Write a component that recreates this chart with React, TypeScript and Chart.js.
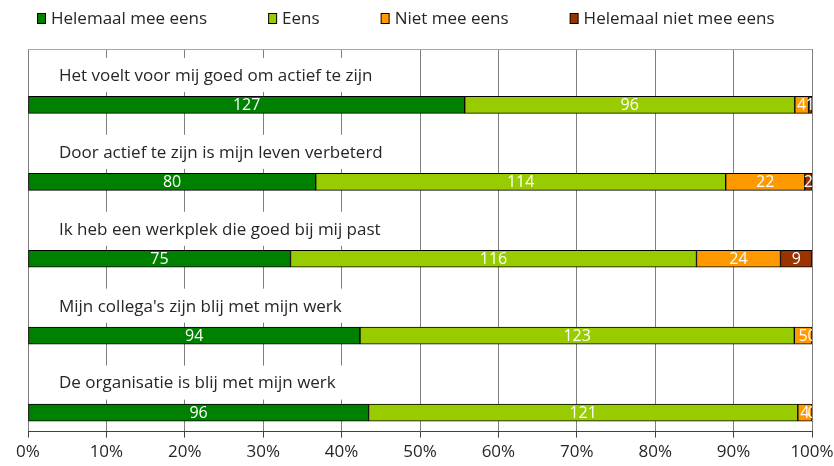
import React, { useEffect, useRef } from "react";
import { Chart, registerables } from "chart.js";

Chart.register(...registerables);

const categories = [
  "Het voelt voor mij goed om actief te zijn",
  "Door actief te zijn is mijn leven verbeterd",
  "Ik heb een werkplek die goed bij mij past",
  "Mijn collega's zijn blij met mijn werk",
  "De organisatie is blij met mijn werk",
];
const seriesNames = ["Helemaal mee eens", "Eens", "Niet mee eens", "Helemaal niet mee eens"];
const helemaalMeeEens = [127, 80, 75, 94, 96];
const eens = [96, 114, 116, 123, 121];
const nietMeeEens = [4, 22, 24, 5, 4];
const helemaalNietMeeEens = [1, 2, 9, 0, 0];
const seriesColors = ["#008000", "#99CC00", "#FF9900", "#993300"];
const xTickValues = [0, 10, 20, 30, 40, 50, 60, 70, 80, 90, 100];

const FONT = "'Open Sans', 'Noto Sans', sans-serif";
const TEXT_COLOR = "#262626";

const allSeries = [helemaalMeeEens, eens, nietMeeEens, helemaalNietMeeEens];
const totals = categories.map((_, i) => allSeries.reduce((s, arr) => s + arr[i], 0));

const categoryLabelPlugin = {
  id: "categoryLabels",
  beforeDatasetsDraw(chart: any) {
    const { ctx, chartArea, scales } = chart;
    const y = scales.y;
    ctx.save();
    ctx.font = `17px ${FONT}`;
    ctx.textBaseline = "middle";
    ctx.textAlign = "left";
    categories.forEach((label, i) => {
      const cy = y.getPixelForValue(i) - 29;
      const x = chartArea.left + 31;
      const w = ctx.measureText(label).width;
      ctx.fillStyle = "#ffffff";
      ctx.fillRect(x - 10, cy - 18, w + 36, 34);
      ctx.fillStyle = TEXT_COLOR;
      ctx.fillText(label, x, cy);
    });
    ctx.restore();
  },
};

const valueLabelPlugin = {
  id: "valueLabels",
  afterDatasetsDraw(chart: any) {
    const { ctx, chartArea } = chart;
    ctx.save();
    ctx.beginPath();
    ctx.rect(chartArea.left, chartArea.top, chartArea.right - chartArea.left, chartArea.bottom - chartArea.top);
    ctx.clip();
    ctx.font = `16px ${FONT}`;
    ctx.fillStyle = "#ffffff";
    ctx.textAlign = "center";
    ctx.textBaseline = "middle";
    chart.data.datasets.forEach((ds: any, d: number) => {
      const meta = chart.getDatasetMeta(d);
      meta.data.forEach((el: any, i: number) => {
        const raw = allSeries[d][i];
        const cx = (el.x + el.base) / 2;
        ctx.fillText(String(raw), cx, el.y + 1);
      });
    });
    ctx.restore();
  },
};

const frameAndLegendPlugin = {
  id: "frameAndLegend",
  afterDraw(chart: any) {
    const { ctx, chartArea } = chart;
    ctx.save();
    ctx.strokeStyle = "#A6A6A6";
    ctx.lineWidth = 1;
    ctx.beginPath();
    ctx.moveTo(chartArea.left, chartArea.top + 0.5);
    ctx.lineTo(chartArea.right, chartArea.top + 0.5);
    ctx.stroke();
    ctx.font = `17px ${FONT}`;
    ctx.textBaseline = "middle";
    ctx.textAlign = "left";
    let x = chartArea.left + 9;
    const ly = 19;
    chart.data.datasets.forEach((ds: any) => {
      ctx.fillStyle = ds.backgroundColor;
      ctx.fillRect(x + 0.5, ly - 5.5, 8, 10);
      ctx.strokeStyle = "#000000";
      ctx.strokeRect(x + 0.5, ly - 5.5, 8, 10);
      x += 14;
      ctx.fillStyle = TEXT_COLOR;
      ctx.fillText(ds.label, x, ly);
      x += ctx.measureText(ds.label).width + 61;
    });
    ctx.restore();
  },
};

export default function App() {
  const canvasRef = useRef<HTMLCanvasElement | null>(null);

  useEffect(() => {
    if (!canvasRef.current) return;
    const datasets = allSeries.map((arr, d) => ({
      label: seriesNames[d],
      data: arr.map((v, i) => ({ x: (v / totals[i]) * 100, y: i })),
      backgroundColor: seriesColors[d],
      borderColor: "#000000",
      borderWidth: 1,
      borderSkipped: false,
      barThickness: 17,
    }));
    const chart = new Chart(canvasRef.current, {
      type: "bar",
      data: { datasets },
      options: {
        indexAxis: "y",
        animation: false,
        responsive: false,
        maintainAspectRatio: false,
        layout: { padding: { left: 28, right: 22, top: 49, bottom: 0 } },
        plugins: {
          legend: { display: false },
          tooltip: { enabled: false },
          title: { display: false },
        },
        scales: {
          x: {
            type: "linear",
            stacked: true,
            min: 0,
            max: 100,
            afterBuildTicks: (scale: any) => {
              scale.ticks = xTickValues.map((v) => ({ value: v }));
            },
            afterFit: (scale: any) => {
              scale.paddingLeft = 0;
              scale.paddingRight = 0;
            },
            ticks: {
              callback: (v: any) => `${v}%`,
              color: TEXT_COLOR,
              font: { family: FONT, size: 17 },
              padding: 4,
              maxRotation: 0,
            },
            grid: { color: "#7F7F7F", lineWidth: 1, drawTicks: true, tickLength: 6, tickColor: "#404040" },
            border: { display: true, color: "#404040", width: 1 },
          },
          y: {
            type: "linear",
            stacked: true,
            offset: false,
            min: -0.727,
            max: 4.247,
            reverse: true,
            display: false,
          },
        },
      },
      plugins: [categoryLabelPlugin, valueLabelPlugin, frameAndLegendPlugin],
    } as any);
    return () => chart.destroy();
  }, []);

  return (
    <div style={{ position: "fixed", left: 0, top: 0, width: 834, height: 466, background: "#ffffff" }}>
      <canvas ref={canvasRef} width={834} height={466} style={{ display: "block" }} />
    </div>
  );
}
